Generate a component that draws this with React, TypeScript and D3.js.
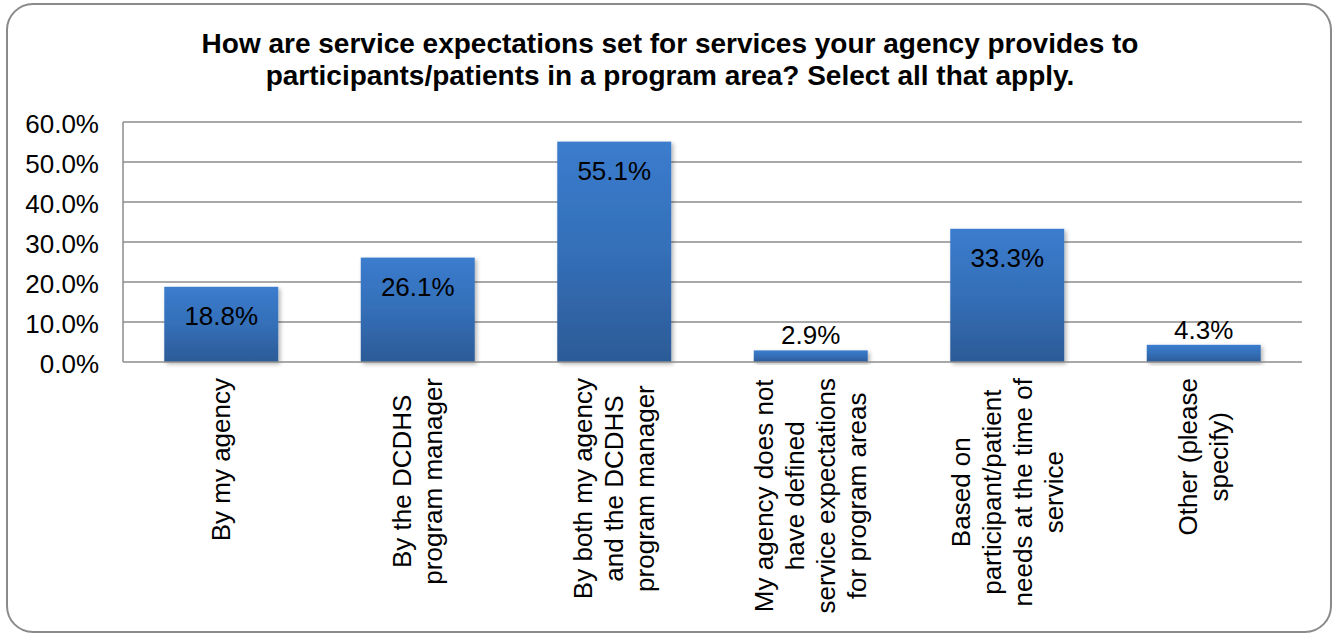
import React, { useEffect, useRef } from "react";
import * as d3 from "d3";

const titleLines: string[] = [
  "How are service expectations set for services your agency provides to",
  "participants/patients in a program area? Select all that apply.",
];

const categories: string[] = [
  "By my agency",
  "By the DCDHS program manager",
  "By both my agency and the DCDHS program manager",
  "My agency does not have defined service expectations for program areas",
  "Based on participant/patient needs at the time of service",
  "Other (please specify)",
];

const categoryLines: string[][] = [
  ["By my agency"],
  ["By the DCDHS", "program manager"],
  ["By both my agency", "and the DCDHS", "program manager"],
  ["My agency does not", "have defined", "service expectations", "for program areas"],
  ["Based on", "participant/patient", "needs at the time of", "service"],
  ["Other (please", "specify)"],
];

const values: number[] = [18.8, 26.1, 55.1, 2.9, 33.3, 4.3];

const yTicks: number[] = [0, 10, 20, 30, 40, 50, 60];

const W = 1338;
const H = 635;
const FONT = "'Liberation Sans', Arial, sans-serif";

export default function App() {
  const ref = useRef<SVGSVGElement | null>(null);

  useEffect(() => {
    const svg = d3.select(ref.current);
    svg.selectAll("*").remove();

    const plot = { left: 123, right: 1302, top: 122, bottom: 362 };

    const x = d3
      .scaleBand<string>()
      .domain(categories)
      .range([plot.left, plot.right])
      .paddingInner(0.42)
      .paddingOuter(0.21);

    const y = d3.scaleLinear().domain([0, 60]).range([plot.bottom, plot.top]);

    const defs = svg.append("defs");
    const grad = defs
      .append("linearGradient")
      .attr("id", "barGrad")
      .attr("x1", 0)
      .attr("y1", 0)
      .attr("x2", 0)
      .attr("y2", 1);
    grad.append("stop").attr("offset", "0%").attr("stop-color", "#3b7cce");
    grad.append("stop").attr("offset", "50%").attr("stop-color", "#346fb8");
    grad.append("stop").attr("offset", "100%").attr("stop-color", "#2c5b97");

    const filt = defs
      .append("filter")
      .attr("id", "shadow")
      .attr("x", "-20%")
      .attr("y", "-20%")
      .attr("width", "140%")
      .attr("height", "140%");
    filt
      .append("feDropShadow")
      .attr("dx", 2)
      .attr("dy", 2)
      .attr("stdDeviation", 2)
      .attr("flood-color", "#000")
      .attr("flood-opacity", 0.3);

    // outer border
    svg
      .append("rect")
      .attr("x", 7)
      .attr("y", 4)
      .attr("width", 1324)
      .attr("height", 628)
      .attr("rx", 26)
      .attr("ry", 26)
      .attr("fill", "#fff")
      .attr("stroke", "#8a8a8a")
      .attr("stroke-width", 2);

    // title
    svg
      .append("g")
      .selectAll("text")
      .data(titleLines)
      .join("text")
      .attr("x", 670)
      .attr("y", (_, i) => 53 + i * 32)
      .attr("text-anchor", "middle")
      .attr("font-family", FONT)
      .attr("font-size", 28)
      .attr("font-weight", "bold")
      .attr("fill", "#000")
      .text((d) => d);

    // gridlines
    svg
      .append("g")
      .selectAll("line")
      .data(yTicks.filter((t) => t > 0))
      .join("line")
      .attr("x1", plot.left)
      .attr("x2", plot.right)
      .attr("y1", (d) => y(d))
      .attr("y2", (d) => y(d))
      .attr("stroke", "#8c8c8c")
      .attr("stroke-width", 1.5);

    // y tick labels
    svg
      .append("g")
      .selectAll("text")
      .data(yTicks)
      .join("text")
      .attr("x", 99)
      .attr("y", (d) => y(d) + 11)
      .attr("text-anchor", "end")
      .attr("font-family", FONT)
      .attr("font-size", 26)
      .attr("fill", "#000")
      .text((d) => d3.format(".1f")(d) + "%");

    // bars
    svg
      .append("g")
      .selectAll("rect")
      .data(values)
      .join("rect")
      .attr("x", (_, i) => x(categories[i]) as number)
      .attr("y", (d) => y(d))
      .attr("width", x.bandwidth())
      .attr("height", (d) => y(0) - y(d))
      .attr("fill", "url(#barGrad)")
      .attr("filter", "url(#shadow)");

    // axes lines
    svg
      .append("line")
      .attr("x1", plot.left)
      .attr("x2", plot.left)
      .attr("y1", plot.top)
      .attr("y2", plot.bottom)
      .attr("stroke", "#8c8c8c")
      .attr("stroke-width", 1.5);
    svg
      .append("line")
      .attr("x1", plot.left)
      .attr("x2", plot.right)
      .attr("y1", plot.bottom)
      .attr("y2", plot.bottom)
      .attr("stroke", "#8c8c8c")
      .attr("stroke-width", 1.5);

    // data labels
    svg
      .append("g")
      .selectAll("text")
      .data(values)
      .join("text")
      .attr("x", (_, i) => (x(categories[i]) as number) + x.bandwidth() / 2)
      .attr("y", (d) => {
        const h = y(0) - y(d);
        return h > 45 ? y(d) + 38 : y(d) - 6;
      })
      .attr("text-anchor", "middle")
      .attr("font-family", FONT)
      .attr("font-size", 26)
      .attr("fill", "#000")
      .text((d) => d3.format(".1f")(d) + "%");

    // category labels (rotated, multi-line, centered)
    const labelTop = 378;
    const lineGap = 31;
    categories.forEach((cat, i) => {
      const lines = categoryLines[i];
      const cx = (x(cat) as number) + x.bandwidth() / 2;
      const g = svg.append("g").attr("transform", `translate(${cx},${labelTop}) rotate(-90)`);
      const texts = g
        .selectAll("text")
        .data(lines)
        .join("text")
        .attr("text-anchor", "middle")
        .attr("font-family", FONT)
        .attr("font-size", 26)
        .attr("fill", "#000")
        .attr("y", (_, j) => (j - (lines.length - 1) / 2) * lineGap + 9)
        .text((d) => d);
      let maxLen = 0;
      texts.each(function () {
        const l = (this as SVGTextElement).getComputedTextLength();
        if (l > maxLen) maxLen = l;
      });
      texts.attr("x", -maxLen / 2);
    });
  }, []);

  return (
    <div style={{ position: "fixed", left: 0, top: 0, width: W, height: H, background: "#fff" }}>
      <svg ref={ref} width={W} height={H} style={{ display: "block" }} />
    </div>
  );
}
